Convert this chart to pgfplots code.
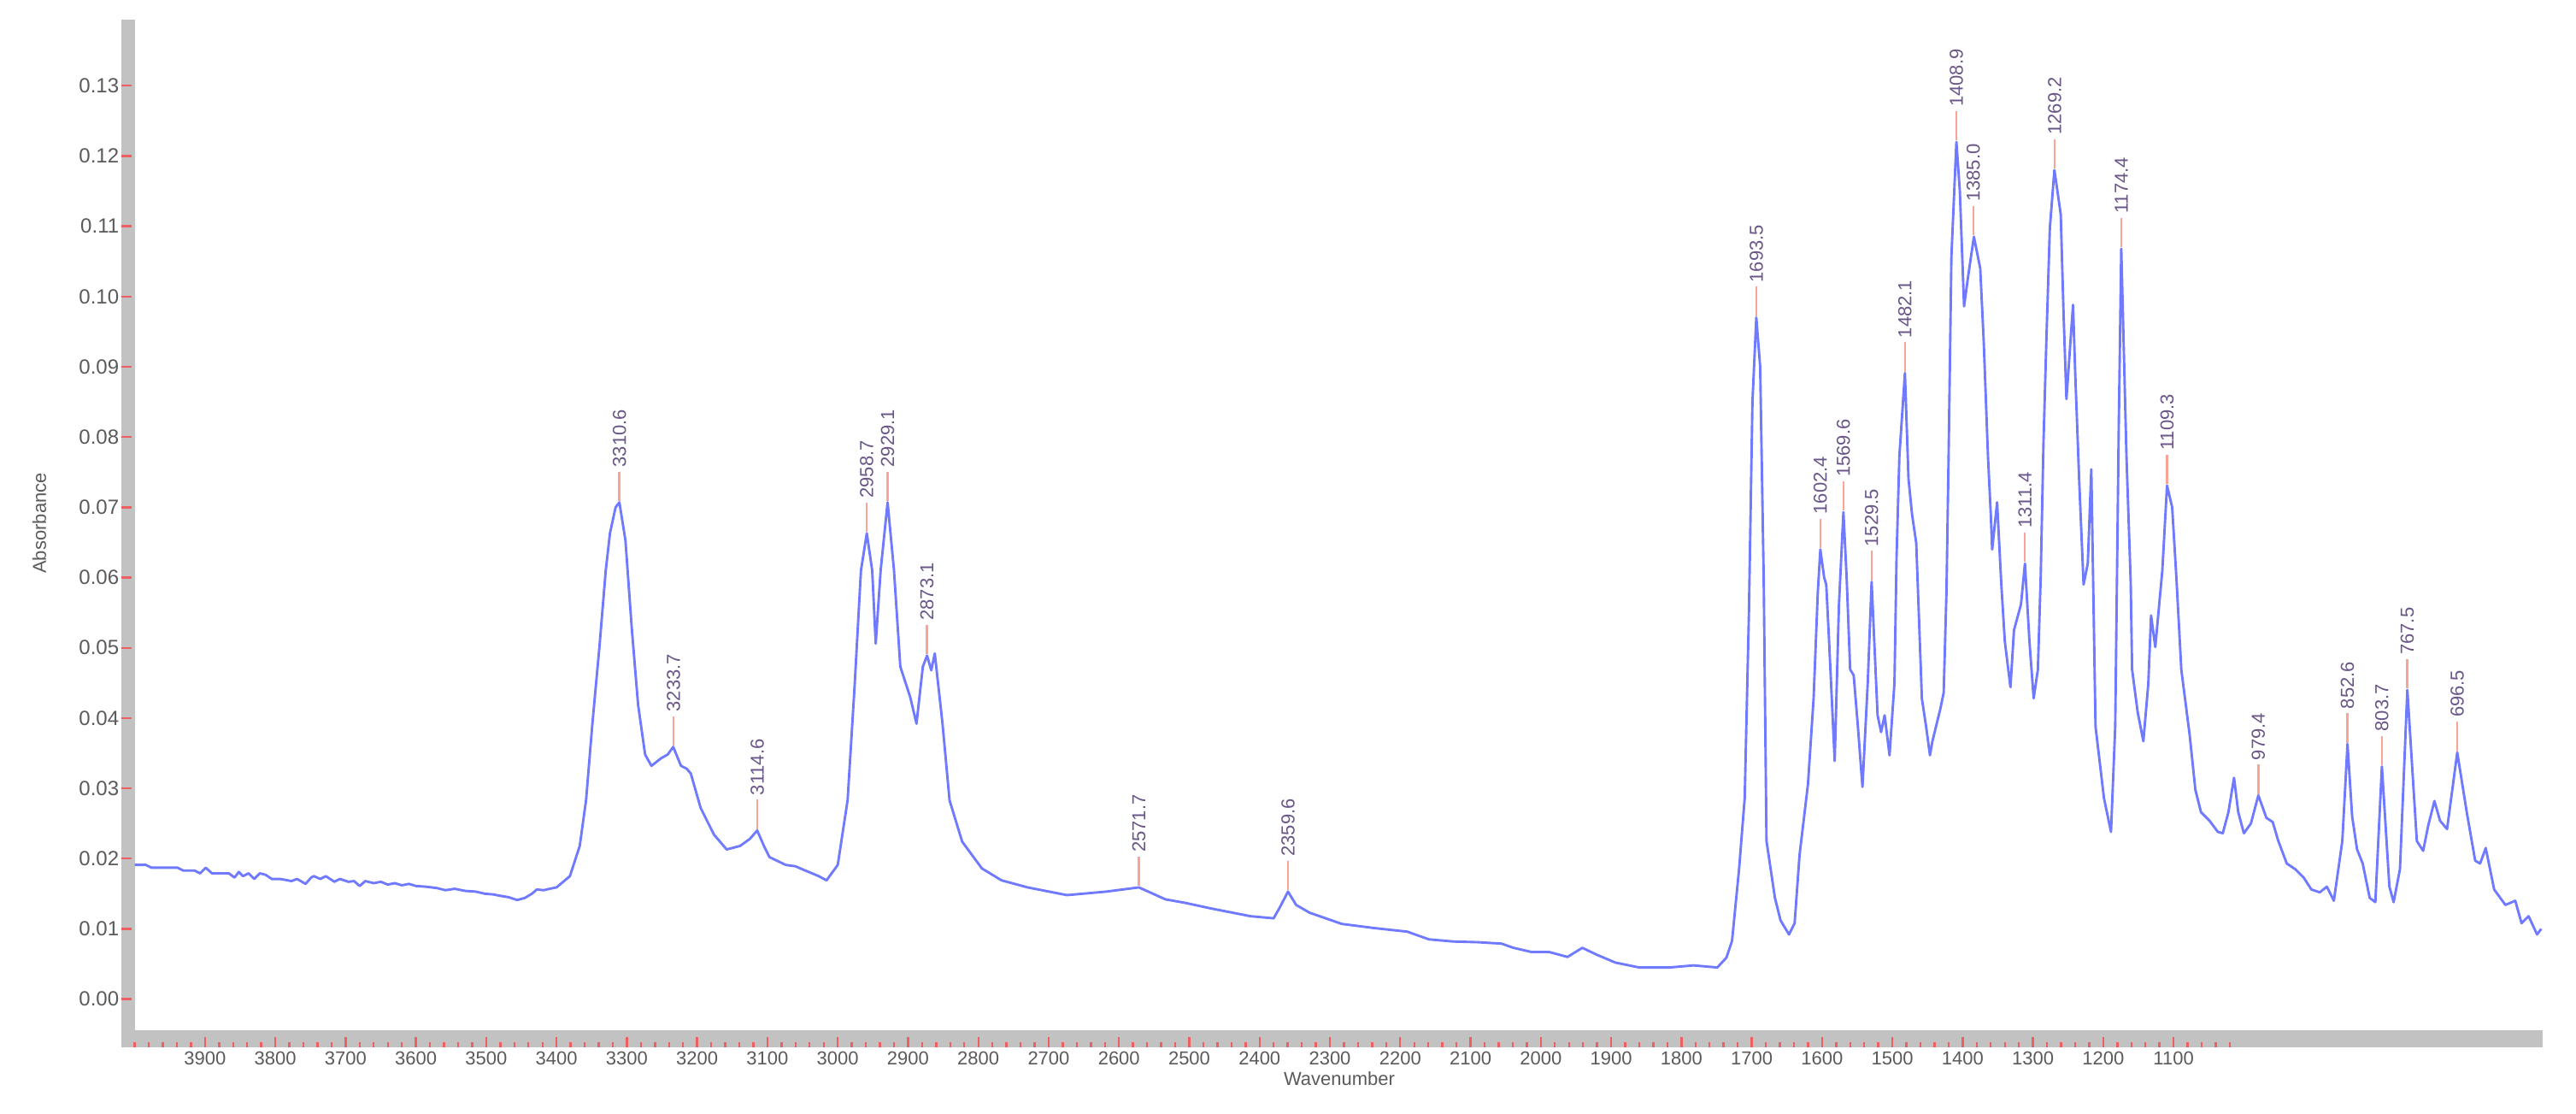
\documentclass[border=0pt]{standalone}
\usepackage{pgfplots}
\pgfplotsset{compat=1.18}
\usepackage{fontspec}
\setmainfont{Liberation Sans}
\definecolor{bargray}{RGB}{194,194,194}
\definecolor{tickred}{RGB}{238,95,95}
\definecolor{labelgray}{RGB}{90,90,90}
\definecolor{peaktext}{RGB}{105,85,135}
\definecolor{peakline}{RGB}{248,165,150}
\definecolor{specblue}{RGB}{112,122,255}
\pgfdeclareplotmark{peakline}{\pgfpathmoveto{\pgfpoint{0pt}{0.4pt}}\pgfpathlineto{\pgfpoint{0pt}{9pt}}\pgfusepathqstroke}

\pgfplotstableread{
x y
4000 0.0191
3984 0.0191
3976 0.0187
3939 0.0187
3931 0.0183
3915 0.0183
3907 0.0179
3899 0.0187
3890 0.0179
3866 0.0179
3858 0.0173
3852 0.0181
3846 0.0175
3838 0.0179
3830 0.0171
3822 0.0179
3814 0.0177
3805 0.0171
3793 0.0171
3777 0.0168
3769 0.0171
3757 0.0164
3749 0.0173
3745 0.0175
3736 0.0171
3728 0.0175
3716 0.0167
3708 0.0171
3696 0.0167
3688 0.0168
3680 0.0161
3672 0.0168
3660 0.0165
3650 0.0167
3640 0.0163
3630 0.0165
3620 0.0162
3610 0.0164
3600 0.0161
3586 0.0160
3570 0.0158
3558 0.0155
3545 0.0157
3530 0.0154
3515 0.0153
3502 0.0150
3490 0.0149
3480 0.0147
3468 0.0145
3456 0.0141
3445 0.0144
3435 0.0150
3428 0.0156
3418 0.0155
3410 0.0157
3400 0.0159
3381 0.0175
3367 0.0218
3358 0.0283
3349 0.0392
3339 0.0501
3330 0.0610
3324 0.0663
3316 0.0700
3310.6 0.0707
3302 0.0653
3293 0.0528
3284 0.0419
3274 0.0348
3265 0.0332
3251 0.0343
3242 0.0348
3234 0.0359
3223 0.0332
3215 0.0328
3209 0.0321
3195 0.0272
3176 0.0234
3158 0.0213
3139 0.0218
3125 0.0228
3114.6 0.0240
3105 0.0218
3097 0.0202
3074 0.0191
3060 0.0189
3051 0.0185
3027 0.0175
3016 0.0169
3000 0.0191
2986 0.0283
2976 0.0446
2967 0.0610
2958.7 0.0663
2951 0.0610
2946 0.0506
2939 0.0610
2929.1 0.0707
2920 0.0610
2911 0.0473
2897 0.0430
2888 0.0392
2879 0.0473
2873 0.0489
2867 0.0468
2862 0.0492
2851 0.0392
2841 0.0283
2823 0.0224
2795 0.0186
2767 0.0169
2730 0.0159
2674 0.0148
2618 0.0153
2571.7 0.0159
2534 0.0142
2506 0.0137
2469 0.0129
2413 0.0118
2380 0.0115
2371 0.0131
2359.6 0.0153
2348 0.0134
2329 0.0123
2283 0.0107
2236 0.0101
2190 0.0096
2159 0.0085
2125 0.0082
2090 0.0081
2056 0.0079
2039 0.0073
2013 0.0067
1988 0.0067
1962 0.0060
1941 0.0073
1920 0.0063
1894 0.0052
1860 0.0045
1817 0.0045
1783 0.0048
1749 0.0045
1736 0.0059
1728 0.0083
1718 0.0185
1710 0.0286
1704 0.0550
1699 0.0850
1693.5 0.0970
1688 0.0900
1683 0.0600
1679 0.0225
1667 0.0144
1659 0.0112
1647 0.0092
1639 0.0108
1632 0.0205
1620 0.0306
1612 0.0428
1606 0.0580
1602.4 0.0640
1597 0.0600
1594 0.0590
1590 0.0510
1582 0.0339
1576 0.0560
1569.6 0.0693
1565 0.0600
1560 0.0469
1555 0.0461
1549 0.0388
1542.5 0.0302
1535 0.0450
1529.5 0.0594
1521 0.0404
1516 0.0380
1511 0.0404
1504 0.0347
1497 0.0450
1494 0.0630
1490 0.0773
1482.1 0.0891
1477 0.0740
1472 0.0690
1466 0.0649
1458 0.0428
1452 0.0388
1446.5 0.0347
1443 0.0367
1432 0.0412
1427 0.0436
1423 0.0580
1420 0.0773
1416 0.1057
1408.9 0.1220
1404 0.1150
1398 0.0986
1392 0.1030
1384 0.1085
1375 0.1040
1370 0.0935
1364 0.0773
1360 0.0690
1358 0.0640
1351 0.0707
1345 0.0590
1340 0.0509
1332 0.0444
1327 0.0525
1317 0.0562
1311.4 0.0620
1305 0.0509
1299 0.0428
1293 0.0469
1289 0.0600
1285 0.0793
1281 0.0935
1276 0.1097
1269.5 0.1180
1260.5 0.1117
1256.5 0.0976
1252.4 0.0854
1243 0.0988
1240 0.0894
1234 0.0732
1228 0.0590
1222 0.0620
1217 0.0754
1211 0.0388
1199 0.0286
1189 0.0238
1183 0.0388
1178 0.0813
1174.4 0.1068
1167 0.0773
1161 0.0594
1159 0.0469
1151 0.0408
1143 0.0367
1136 0.0448
1132 0.0546
1126 0.0501
1116 0.0610
1109.3 0.0731
1102 0.0700
1096 0.0600
1089 0.0469
1077 0.0375
1069 0.0298
1061 0.0266
1049 0.0254
1037 0.0238
1030 0.0236
1022 0.0266
1014 0.0315
1008 0.0266
1000 0.0236
990 0.0250
979.4 0.0290
968 0.0258
959 0.0252
951 0.0225
939 0.0193
927 0.0185
915 0.0173
904 0.0156
892 0.0152
882 0.0160
872 0.0140
860 0.0225
852.6 0.0363
846 0.0260
839 0.0213
831 0.0193
821 0.0144
813 0.0138
803.7 0.0331
793 0.0160
787 0.0138
778 0.0185
767.5 0.0440
754 0.0225
745 0.0211
738 0.0246
729 0.0282
721 0.0254
711 0.0242
696.5 0.0351
683 0.0266
671 0.0197
664 0.0193
656 0.0215
644 0.0156
628 0.0134
614 0.0140
605 0.0108
595 0.0118
583 0.0092
577 0.0100
}\spectrum

\pgfplotstableread{
x y lab
3310.6 0.0707 3310.6
3233.7 0.0359 3233.7
3114.6 0.0240 3114.6
2958.7 0.0663 2958.7
2929.1 0.0707 2929.1
2873.1 0.0489 2873.1
2571.7 0.0159 2571.7
2359.6 0.0153 2359.6
1693.5 0.0970 1693.5
1602.4 0.0640 1602.4
1569.6 0.0693 1569.6
1529.5 0.0594 1529.5
1482.1 0.0891 1482.1
1408.9 0.1220 1408.9
1385.0 0.1085 1385.0
1311.4 0.0620 1311.4
1269.2 0.1180 1269.2
1174.4 0.1068 1174.4
1109.3 0.0731 1109.3
979.4 0.0290 979.4
852.6 0.0363 852.6
803.7 0.0331 803.7
767.5 0.0440 767.5
696.5 0.0351 696.5
}\peaks

\begin{document}
\begin{tikzpicture}
\useasboundingbox (0,0) rectangle (753.5pt,325.75pt);
\begin{axis}[
  at={(35.5pt,19.5pt)}, anchor=south west,
  scale only axis, width=708.25pt, height=300.5pt,
  xmin=575, xmax=4019, ymin=-0.00686, ymax=0.1394,
  x dir=reverse,
  axis on top, clip=false,
  axis line style={draw=none},
  scaled ticks=false,
  xtick={1100,1200,...,3900},
  minor xtick={1020,1040,...,4000},
  ytick={0,0.01,0.02,0.03,0.04,0.05,0.06,0.07,0.08,0.09,0.10,0.11,0.12,0.13},
  xtick pos=bottom, ytick pos=left,
  tick align=inside,
  major tick length=3pt, minor tick length=1.5pt,
  tick style={draw=tickred, line width=0.6pt},
  /pgf/number format/assume math mode=true,
  xticklabel style={font=\fontsize{5.5}{6}\selectfont, text=labelgray, inner sep=1pt,
    /pgf/number format/.cd, set thousands separator={}},
  yticklabel style={font=\fontsize{6}{7}\selectfont, text=labelgray, inner sep=0.5pt,
    /pgf/number format/.cd, fixed, fixed zerofill, precision=2},
  xlabel={Wavenumber},
  ylabel={Absorbance},
  every axis x label/.style={at={(rel axis cs:0.503,0)}, yshift=-9.2pt, anchor=center,
    font=\fontsize{5.5}{6}\selectfont, text=labelgray},
  every axis y label/.style={at={(rel axis cs:0,0.51)}, xshift=-24pt, rotate=90, anchor=center,
    font=\fontsize{5.5}{6}\selectfont, text=labelgray},
]
\fill[bargray] (axis cs:4019,-0.00686) rectangle (axis cs:575,-0.00443);
\fill[bargray] (axis cs:4019,-0.00686) rectangle (axis cs:4000,0.1394);
\addplot[color=specblue, line width=0.72pt, line join=round, mark=none] table[x=x,y=y] {\spectrum};
\addplot[only marks, mark=peakline, mark options={draw=peakline, line width=0.6pt},
  point meta=explicit symbolic, nodes near coords,
  every node near coord/.style={font=\fontsize{5.5}{6}\selectfont, text=peaktext,
    inner sep=0pt, anchor=west, yshift=10pt, rotate=90}]
  table[x=x,y=y,meta=lab] {\peaks};
\end{axis}
\end{tikzpicture}
\end{document}
